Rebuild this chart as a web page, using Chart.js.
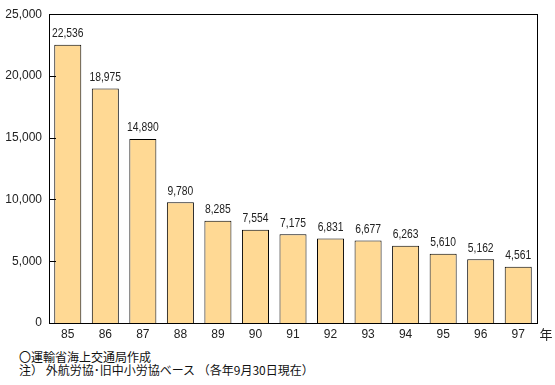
<!DOCTYPE html>
<html>
<head>
<meta charset="utf-8">
<script src="https://cdn.jsdelivr.net/npm/chart.js@4.4.0/dist/chart.umd.min.js"></script>
<style>
  body { margin: 0; background: #fff; }
  #wrap { position: relative; width: 555px; height: 385px; }
  #chart { position: absolute; left: 0; top: 0; }
  .note { position: absolute; left: 19px; font: 12px "Noto Sans CJK JP", sans-serif; color: #111; line-height: 14px; white-space: pre; }
</style>
</head>
<body>
<div id="wrap">
  <canvas id="chart" width="555" height="346"></canvas>
  <div class="note" style="top:350px">〇運輸省海上交通局作成</div>
  <div class="note" style="top:363px">注） 外航労協･旧中小労協ベース （各年9月30日現在）</div>
</div>
<script>
// years (x axis) and members
var years = ['85', '86', '87', '88', '89', '90', '91', '92', '93', '94', '95', '96', '97'];
var members = [22536, 18975, 14890, 9780, 8285, 7554, 7175, 6831, 6677, 6263, 5610, 5162, 4561];
var yTicks = [0, 5000, 10000, 15000, 20000, 25000];

var fmt = function (v) { return v.toLocaleString('en-US'); };

// box around plot, inner tick marks, value labels, unit
var extras = {
  id: 'extras',
  afterDatasetsDraw: function (chart) {
    var ctx = chart.ctx;
    var a = chart.chartArea;
    var y = chart.scales.y;
    ctx.save();
    ctx.strokeStyle = '#000';
    ctx.lineWidth = 1;
    ctx.strokeRect(Math.round(a.left) + 0.5, Math.round(a.top) + 0.5, Math.round(a.right - a.left), Math.round(a.bottom - a.top));
    yTicks.forEach(function (t) {
      var py = Math.round(y.getPixelForValue(t)) + 0.5;
      ctx.beginPath();
      ctx.moveTo(a.left, py);
      ctx.lineTo(a.left + 7, py);
      ctx.stroke();
    });
    ctx.fillStyle = '#222';
    ctx.font = '12px "Liberation Sans", sans-serif';
    ctx.textAlign = 'center';
    ctx.textBaseline = 'bottom';
    chart.getDatasetMeta(0).data.forEach(function (bar, i) {
      // narrow labels like the original
      ctx.save();
      ctx.translate(bar.x, bar.y - 5);
      ctx.scale(0.86, 1);
      ctx.fillText(fmt(members[i]), 0, 0);
      ctx.restore();
    });
    ctx.font = '13px "Noto Sans CJK JP", sans-serif';
    ctx.textBaseline = 'middle';
    ctx.fillText('年', a.right + 9, a.bottom + 11);
    ctx.restore();
  }
};

new Chart(document.getElementById('chart').getContext('2d'), {
  type: 'bar',
  data: {
    labels: years,
    datasets: [
      {
        data: members,
        backgroundColor: '#FFD994',
        borderColor: '#000',
        borderWidth: 1,
        barPercentage: 0.72,
        categoryPercentage: 1
      }
    ]
  },
  options: {
    responsive: false,
    animation: false,
    layout: { padding: { left: 0, top: 9, right: 18, bottom: 0 } },
    plugins: { legend: { display: false }, tooltip: { enabled: false } },
    scales: {
      x: {
        grid: { display: false, drawTicks: false },
        border: { display: false },
        ticks: { color: '#222', font: { size: 12, family: 'Liberation Sans' }, padding: 4 },
        afterFit: function (s) { s.height = 23; }
      },
      y: {
        min: 0,
        max: 25000,
        grid: { display: false, drawTicks: false },
        border: { display: false },
        afterBuildTicks: function (s) { s.ticks = yTicks.map(function (v) { return { value: v }; }); },
        ticks: { color: '#222', font: { size: 12, family: 'Liberation Sans' }, padding: 7, callback: function (v) { return fmt(v); } },
        afterFit: function (s) { s.width = 49; }
      }
    }
  },
  plugins: [extras]
});
</script>
</body>
</html>
